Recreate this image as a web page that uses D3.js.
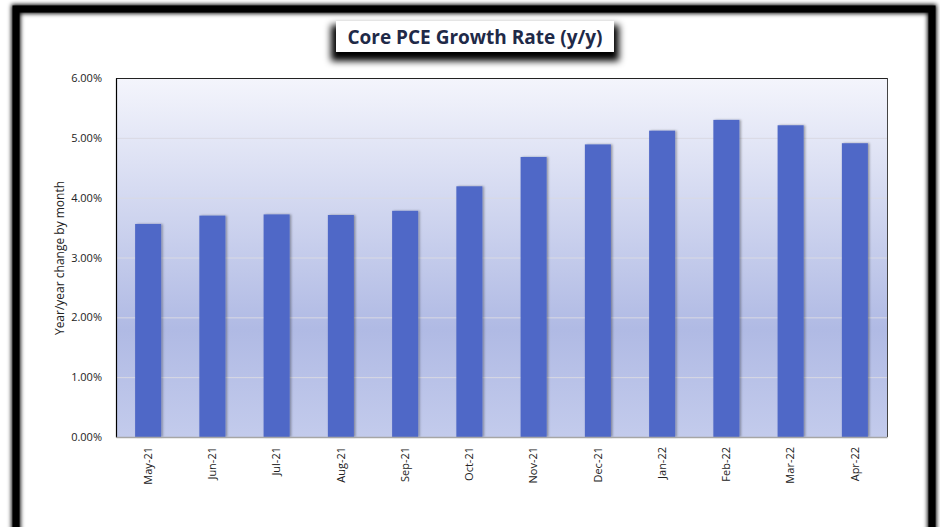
<!DOCTYPE html>
<html><head><meta charset="utf-8">
<script src="https://cdn.jsdelivr.net/npm/d3@7"></script>
<style>html,body{margin:0;padding:0;background:#fff;overflow:hidden}</style>
</head><body>
<svg id="c" width="940" height="527"></svg>
<script>
const categories = ["May-21","Jun-21","Jul-21","Aug-21","Sep-21","Oct-21","Nov-21","Dec-21","Jan-22","Feb-22","Mar-22","Apr-22"];
const values = [3.56, 3.70, 3.72, 3.71, 3.78, 4.19, 4.68, 4.89, 5.12, 5.30, 5.21, 4.91];
const yTicks = [0, 1, 2, 3, 4, 5, 6];
const titleText = "Core PCE Growth Rate (y/y)";
const yAxisTitle = "Year/year change by month";

const svg = d3.select("#c");
const defs = svg.append("defs");

const frameF = defs.append("filter").attr("id","frameShadow").attr("x","-5%").attr("y","-5%").attr("width","110%").attr("height","110%");
frameF.append("feGaussianBlur").attr("stdDeviation",2);

const tF = defs.append("filter").attr("id","titleBlur").attr("x","-20%").attr("y","-50%").attr("width","140%").attr("height","220%");
tF.append("feGaussianBlur").attr("stdDeviation",3.5);

const bF = defs.append("filter").attr("id","barShadow").attr("x","-20%").attr("y","-5%").attr("width","150%").attr("height","110%");
bF.append("feDropShadow").attr("dx",1.5).attr("dy",0).attr("stdDeviation",1).attr("flood-color","#000").attr("flood-opacity",0.35);

const grad = defs.append("linearGradient").attr("id","bg").attr("x1",0).attr("y1",0).attr("x2",0).attr("y2",1);
grad.append("stop").attr("offset","0%").attr("stop-color","#F4F5FC");
grad.append("stop").attr("offset","70%").attr("stop-color","#B0BAE4");
grad.append("stop").attr("offset","100%").attr("stop-color","#C3CBEC");

// outer frame
svg.append("rect").attr("x",16).attr("y",9).attr("width",916).attr("height",540)
  .attr("fill","none").attr("stroke","#000").attr("stroke-width",9).attr("filter","url(#frameShadow)");
svg.append("rect").attr("x",16).attr("y",9).attr("width",916).attr("height",540)
  .attr("fill","none").attr("stroke","#000").attr("stroke-width",7);

const m = {left:116, top:78, right:887, bottom:437};
const x = d3.scaleBand().domain(categories).range([m.left, m.right]).paddingInner(0.595).paddingOuter(0.2975);
const y = d3.scaleLinear().domain([0, 6]).range([m.bottom, m.top]);

// plot background
svg.append("rect").attr("x",m.left).attr("y",m.top).attr("width",m.right-m.left).attr("height",m.bottom-m.top)
  .attr("fill","url(#bg)");

// gridlines
svg.append("g").selectAll("line").data(yTicks.filter(d=>d>0 && d<6)).join("line")
  .attr("x1",m.left).attr("x2",m.right).attr("y1",d=>y(d)+0.5).attr("y2",d=>y(d)+0.5)
  .attr("stroke","#D9D9E3").attr("stroke-width",1);

// bars
svg.append("g").selectAll("rect").data(values).join("rect")
  .attr("x",(d,i)=>x(categories[i])).attr("width",x.bandwidth())
  .attr("y",d=>y(d)).attr("height",d=>y(0)-y(d))
  .attr("fill","#4F68C7").attr("filter","url(#barShadow)");

// plot border
svg.append("line").attr("x1",m.left).attr("x2",m.right).attr("y1",m.top+0.5).attr("y2",m.top+0.5).attr("stroke","#222").attr("stroke-width",1);
svg.append("line").attr("x1",m.right+0.5).attr("x2",m.right+0.5).attr("y1",m.top).attr("y2",m.bottom).attr("stroke","#444").attr("stroke-width",1);

// y axis
const yAxis = svg.append("g").attr("transform",`translate(${m.left},0)`)
  .call(d3.axisLeft(y).tickValues(yTicks).tickFormat(d=>d.toFixed(2)+"%").tickSize(0).tickPadding(14));
yAxis.select(".domain").attr("stroke","#000").attr("stroke-width",1.2);
yAxis.selectAll("text").attr("font-family","'Open Sans', sans-serif").attr("font-size",11).attr("fill","#222");

// x axis
const xAxis = svg.append("g").attr("transform",`translate(0,${m.bottom})`)
  .call(d3.axisBottom(x).tickSize(0).tickPadding(0));
xAxis.select(".domain").attr("stroke","#A6A6A6").attr("stroke-width",1.5);
xAxis.selectAll("text").attr("font-family","'Open Sans', sans-serif").attr("font-size",11).attr("fill","#222")
  .attr("transform","rotate(-90)").attr("text-anchor","end").attr("dy","0.35em").attr("dx","-10px").attr("x",0).attr("y",0);
xAxis.selectAll(".tick").attr("transform",d=>`translate(${x(d)+x.bandwidth()/2},0)`);

// y axis title
svg.append("text").attr("transform","translate(59,258) rotate(-90)").attr("text-anchor","middle")
  .attr("dominant-baseline","central")
  .attr("font-family","'Open Sans', sans-serif").attr("font-size",12).attr("fill","#222").text(yAxisTitle);

// title
svg.append("rect").attr("x",331).attr("y",25).attr("width",288).attr("height",36).attr("fill","#000").attr("filter","url(#titleBlur)");
svg.append("rect").attr("x",336).attr("y",21).attr("width",278).attr("height",31).attr("fill","#fff");
svg.append("text").attr("x",475).attr("y",37).attr("text-anchor","middle").attr("dominant-baseline","central")
  .attr("font-family","'Open Sans', sans-serif").attr("font-weight","bold").attr("font-size",19).attr("fill","#1F2A48")
  .text(titleText);
</script>
</body></html>
